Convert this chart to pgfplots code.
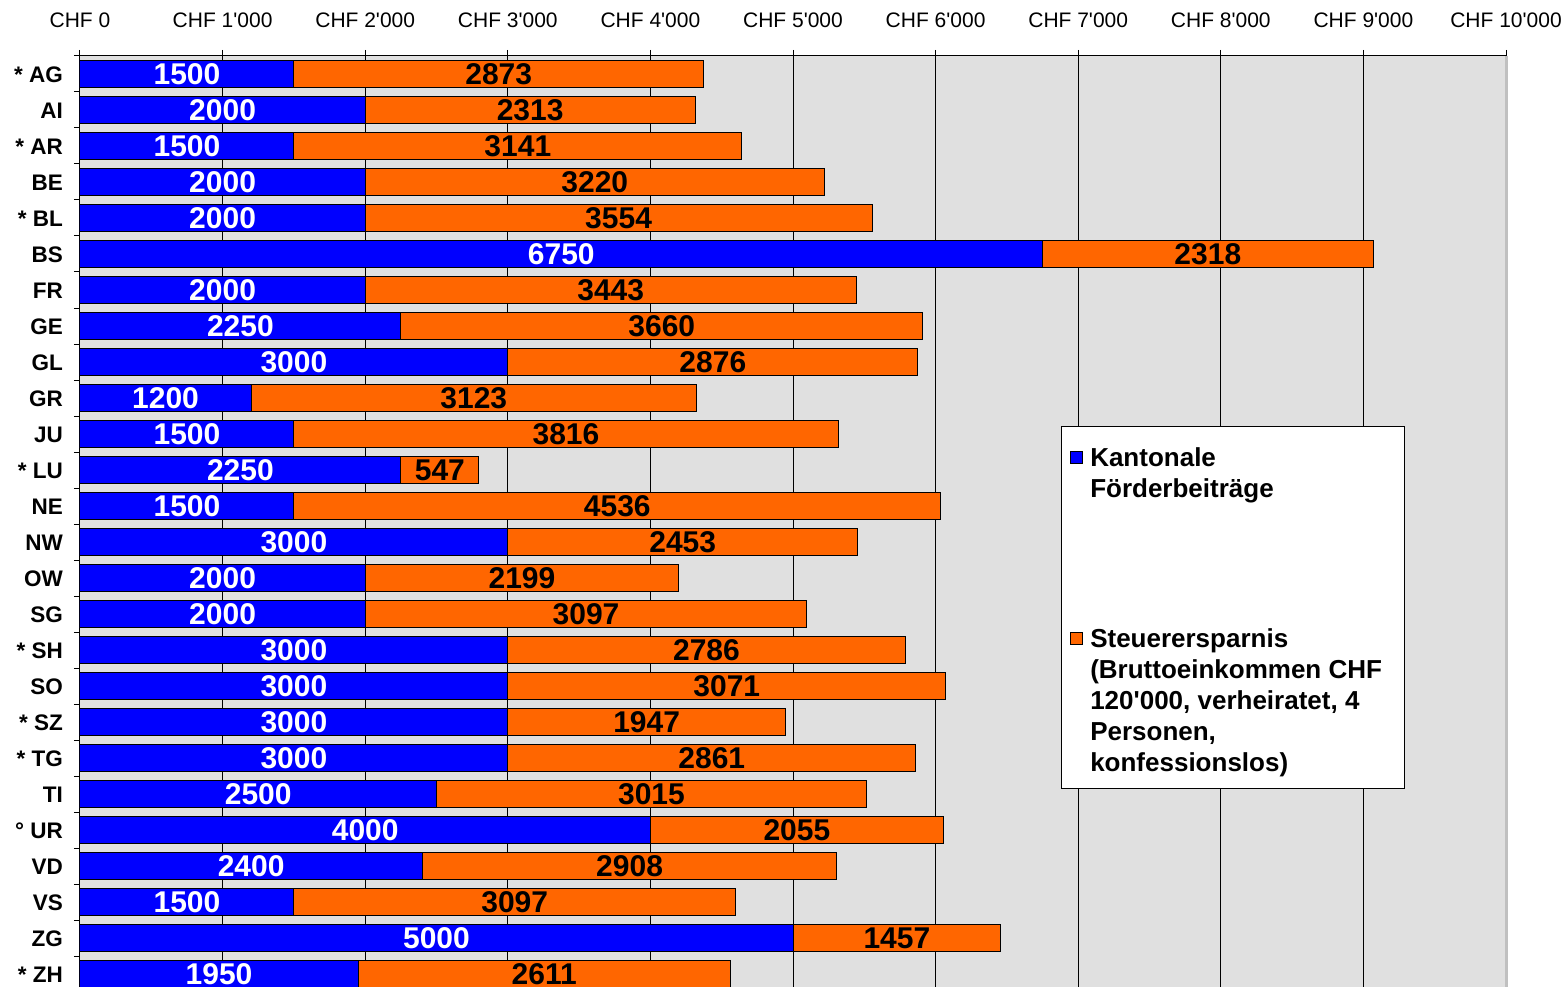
\documentclass[border=0pt]{standalone}
\usepackage{pgfplots}
\pgfplotsset{compat=1.18}
\usepackage{pgfplotstable}
\usepackage{fontspec}
\setmainfont{Liberation Sans}
\definecolor{cblue}{RGB}{0,0,255}
\definecolor{corange}{RGB}{255,102,0}
\definecolor{bggray}{RGB}{224,224,224}
\definecolor{edgegray}{RGB}{192,192,192}
\newcommand\q{\textquotesingle}
\newcommand\tickfont{\fontsize{21}{25}\selectfont}
\newcommand\catfont{\fontsize{22.5}{27}\selectfont\bfseries}
\newcommand\barfont{\fontsize{30}{36}\selectfont\bfseries}
\newcommand\legfont{\fontsize{26}{31}\selectfont\bfseries}

\pgfplotstableread{
idx a b
0 1500 2873
1 2000 2313
2 1500 3141
3 2000 3220
4 2000 3554
5 6750 2318
6 2000 3443
7 2250 3660
8 3000 2876
9 1200 3123
10 1500 3816
11 2250 547
12 1500 4536
13 3000 2453
14 2000 2199
15 2000 3097
16 3000 2786
17 3000 3071
18 3000 1947
19 3000 2861
20 2500 3015
21 4000 2055
22 2400 2908
23 1500 3097
24 5000 1457
25 1950 2611
}\data

\begin{document}
\begin{tikzpicture}
\begin{axis}[
  at={(80pt,0pt)}, anchor=south west,
  width=1426pt, height=931pt, scale only axis,
  xbar stacked, bar width=27.7pt,
  xmin=0, xmax=10000, ymin=-0.5, ymax=25.361, y dir=reverse,
  enlargelimits=false,
  axis x line*=top, axis y line*=left,
  axis line style={-, black, line width=1pt},
  axis background/.style={fill=bggray},
  tick align=outside,
  major tick length=6pt, minor tick length=6pt,
  xtick={0,1000,...,9000},
  xticklabels={CHF 0, CHF 1\q 000, CHF 2\q 000, CHF 3\q 000, CHF 4\q 000, CHF 5\q 000, CHF 6\q 000, CHF 7\q 000, CHF 8\q 000, CHF 9\q 000},
  extra x ticks={10000}, extra x tick labels={CHF 10\q 000},
  extra x tick style={grid style={edgegray, line width=3pt}},
  xmajorgrids, grid style={black, line width=1pt},
  xticklabel style={font=\tickfont, anchor=base, inner sep=0pt, yshift=22pt},
  major x tick style={black, line width=1pt},
  ytick={0,...,25},
  yticklabels={{* AG},{AI},{* AR},{BE},{* BL},{BS},{FR},{GE},{GL},{GR},{JU},{* LU},{NE},{NW},{OW},{SG},{* SH},{SO},{* SZ},{* TG},{TI},{° UR},{VD},{VS},{ZG},{* ZH}},
  yticklabel style={font=\catfont, anchor=east, inner sep=0pt, xshift=-11pt, yshift=-1pt},
  major y tick style={draw=none},
  minor ytick={-0.5,0.5,...,24.5},
  minor y tick style={black, line width=1pt},
  legend style={at={(axis cs:6879,9.778)}, anchor=north west, draw=black, line width=1pt, fill=white,
    inner xsep=9pt, inner ysep=12pt, row sep=125.6pt, column sep=7pt,
    nodes={inner sep=0pt, anchor=base west, font=\legfont}},
  legend image code/.code={\draw[#1, line width=0.8pt] (0pt,3pt) rectangle (12pt,15pt);},
]
\addplot[fill=cblue, draw=black, line width=1pt,
  nodes near coords, point meta=explicit symbolic,
  every node near coord/.append style={text=white, font=\barfont, anchor=center, inner sep=0pt}]
  table[x=a, y=idx, meta=a]{\data};
\addlegendentry[text depth=36.4pt]{\parbox[t]{305pt}{\raggedright\rule{0pt}{28pt}Kantonale\\Förderbeiträge}}
\addplot[fill=corange, draw=black, line width=1pt,
  nodes near coords, point meta=explicit symbolic,
  every node near coord/.append style={text=black, font=\barfont, anchor=center, inner sep=0pt}]
  table[x=b, y=idx, meta=b]{\data};
\addlegendentry[text depth=129.4pt]{\parbox[t]{305pt}{\raggedright Steuerersparnis\\(Bruttoeinkommen CHF\\120\q 000, verheiratet, 4\\Personen,\\konfessionslos)}}
\end{axis}
\pgfresetboundingbox
\path[use as bounding box] (0,0) rectangle (1568pt,987pt);
\end{tikzpicture}
\end{document}
